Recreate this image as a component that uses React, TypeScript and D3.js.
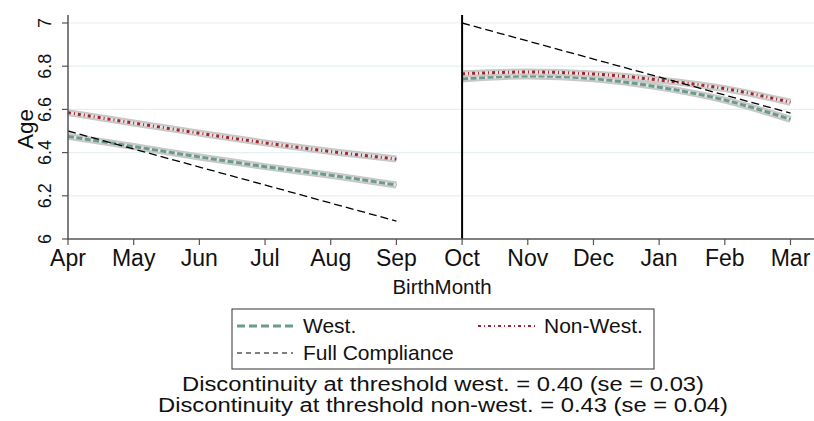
import * as d3 from 'd3';

// months on the x axis (Apr..Sep before the cutoff, Oct..Mar after)
const months = ['Apr', 'May', 'Jun', 'Jul', 'Aug', 'Sep', 'Oct', 'Nov', 'Dec', 'Jan', 'Feb', 'Mar'];
const leftMonths = months.slice(0, 6);
const rightMonths = months.slice(6);

const westLeft = [6.475, 6.428, 6.38, 6.335, 6.295, 6.25];
const westRight = [6.741, 6.755, 6.742, 6.703, 6.643, 6.554];
const nonWestLeft = [6.585, 6.537, 6.49, 6.445, 6.405, 6.37];
const nonWestRight = [6.765, 6.773, 6.764, 6.736, 6.696, 6.633];

// full compliance: straight lines, endpoints only
const fullLeft = [6.5, 6.083];
const fullRight = [7.0, 6.583];

const yTicks = [6, 6.2, 6.4, 6.6, 6.8, 7];
const notes = [
  'Discontinuity at threshold west. = 0.40 (se = 0.03)',
  'Discontinuity at threshold non-west. = 0.43 (se = 0.04)',
];
const noteWidths = [522, 570];

const W = 814;
const H = 421;
const font = '"Liberation Sans", Arial, sans-serif';
const green = '#6b9b8b';
const red = '#a3262f';

export default function App() {
  const x = d3.scalePoint<string>().domain(months).range([68, 790.5]).padding(0);
  const y = d3.scaleLinear().domain([6, 7]).range([239, 23]);

  const line = d3
    .line<[string, number]>()
    .x((d) => x(d[0]) as number)
    .y((d) => y(d[1]))
    .curve(d3.curveMonotoneX);

  const pairs = (ms: string[], vs: number[]) => ms.map((m, i) => [m, vs[i]] as [string, number]);

  const series = [
    { data: [pairs(leftMonths, westLeft), pairs(rightMonths, westRight)], color: green, dash: '6,2.5' },
    { data: [pairs(leftMonths, nonWestLeft), pairs(rightMonths, nonWestRight)], color: red, dash: '3,3,1,3' },
  ];

  const fullSegs = [
    [[leftMonths[0], fullLeft[0]], [leftMonths[5], fullLeft[1]]],
    [[rightMonths[0], fullRight[0]], [rightMonths[5], fullRight[1]]],
  ] as [string, number][][];

  return (
    <svg
      width={W}
      height={H}
      style={{ position: 'absolute', left: 0, top: 0, background: '#fff' }}
      fontFamily={font}
    >
      {/* gridlines */}
      {yTicks.slice(1).map((t) => (
        <line key={t} x1={68} x2={W} y1={y(t)} y2={y(t)} stroke="#e6eff1" strokeWidth={1.2} />
      ))}

      {/* confidence bands and fitted lines */}
      {series.map((s, si) =>
        s.data.map((seg, i) => (
          <g key={`${si}-${i}`}>
            <path d={line(seg) ?? ''} fill="none" stroke="#c8c8c8" strokeWidth={7} />
            <path d={line(seg) ?? ''} fill="none" stroke="#e4e4e4" strokeWidth={3} />
            <path d={line(seg) ?? ''} fill="none" stroke={s.color} strokeWidth={3} strokeDasharray={s.dash} />
          </g>
        )),
      )}

      {/* full compliance */}
      {fullSegs.map((seg, i) => (
        <path
          key={i}
          d={d3.line<[string, number]>().x((d) => x(d[0]) as number).y((d) => y(d[1]))(seg) ?? ''}
          fill="none"
          stroke="#000"
          strokeWidth={1.3}
          strokeDasharray="8,4"
        />
      ))}

      {/* threshold */}
      <line x1={x('Oct')} x2={x('Oct')} y1={15} y2={y(6)} stroke="#000" strokeWidth={2} />

      {/* y axis */}
      <line x1={68} x2={68} y1={15} y2={y(6)} stroke="#555" strokeWidth={1.5} />
      {yTicks.map((t) => (
        <g key={t}>
          <line x1={62} x2={68} y1={y(t)} y2={y(t)} stroke="#555" strokeWidth={1.2} />
          <text
            transform={`translate(51,${y(t)}) rotate(-90)`}
            textAnchor="middle"
            fontSize={18}
            fill="#111"
          >
            {d3.format('~g')(t)}
          </text>
        </g>
      ))}
      <text transform="translate(33,129) rotate(-90)" textAnchor="middle" fontSize={22.5} fill="#111">
        Age
      </text>

      {/* x axis */}
      <line x1={67} x2={W} y1={y(6)} y2={y(6)} stroke="#555" strokeWidth={1.5} />
      {months.map((m) => (
        <g key={m}>
          <line x1={x(m)} x2={x(m)} y1={y(6)} y2={y(6) + 6} stroke="#555" strokeWidth={1.2} />
          <text x={x(m)} y={266} textAnchor="middle" fontSize={23} fill="#111">
            {m}
          </text>
        </g>
      ))}
      <text x={442} y={294} textAnchor="middle" fontSize={20.5} fill="#111">
        BirthMonth
      </text>

      {/* legend */}
      <rect x={232} y={309} width={422} height={60} fill="#fff" stroke="#333" strokeWidth={1} />
      <line x1={237} x2={293} y1={326} y2={326} stroke={green} strokeWidth={3} strokeDasharray="8,4" />
      <text x={303} y={333} fontSize={21} fill="#111">West.</text>
      <line x1={478} x2={535} y1={326} y2={326} stroke={red} strokeWidth={2} strokeDasharray="3,3,1,3" />
      <text x={544} y={333} fontSize={21} fill="#111">Non-West.</text>
      <line x1={237} x2={293} y1={353} y2={353} stroke="#000" strokeWidth={1.2} strokeDasharray="5,4" />
      <text x={303} y={360} fontSize={21} fill="#111">Full Compliance</text>

      {/* notes */}
      {notes.map((n, i) => (
        <text
          key={i}
          x={443}
          y={391 + i * 21}
          textAnchor="middle"
          fontSize={20}
          textLength={noteWidths[i]}
          lengthAdjust="spacingAndGlyphs"
          fill="#111"
        >
          {n}
        </text>
      ))}
    </svg>
  );
}
